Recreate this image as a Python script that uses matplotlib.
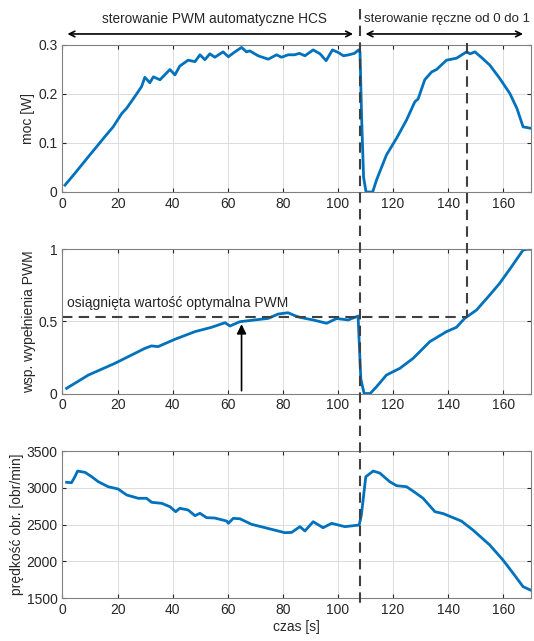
import numpy as np
import matplotlib
matplotlib.use("Agg")
import matplotlib.pyplot as plt
import matplotlib.transforms as mtransforms
from matplotlib.lines import Line2D

plt.rcParams['font.family'] = ['Liberation Sans', 'DejaVu Sans']
plt.rcParams['font.size'] = 10

# ---------------- data ----------------
t_p = [0.9, 4.5, 9.4, 15.4, 18.4, 21.5, 23.3, 26.3, 28.7, 29.9, 31.7, 33, 35.4, 39, 40.8,
       42.6, 45.6, 48.1, 49.9, 51.7, 53.5, 55.3, 58.3, 60.2, 62.6, 65, 66.8, 68, 71, 74.7,
       77.7, 79.5, 81.9, 84.3, 86, 88, 91, 93.5, 95.7, 98, 100, 102, 104, 106, 107.5, 108,
       108.6, 109.3, 110.2, 112.6, 114, 117.6, 121.3, 124.9, 127.9, 129.1, 131.5, 134,
       135.8, 139.4, 143, 146.7, 148, 149.7, 152, 155.1, 158.7, 162.4, 165, 167.2, 170]
moc = [0.014, 0.038, 0.072, 0.113, 0.133, 0.16, 0.171, 0.195, 0.215, 0.234, 0.223, 0.235,
       0.229, 0.25, 0.239, 0.257, 0.269, 0.266, 0.28, 0.27, 0.282, 0.275, 0.286, 0.276,
       0.286, 0.295, 0.286, 0.288, 0.278, 0.271, 0.28, 0.275, 0.28, 0.28, 0.283, 0.278,
       0.29, 0.282, 0.268, 0.29, 0.285, 0.278, 0.28, 0.283, 0.29, 0.285, 0.15, 0.03, 0.0,
       0.0, 0.0245, 0.0755, 0.11, 0.147, 0.184, 0.19, 0.229, 0.245, 0.25, 0.269, 0.273,
       0.286, 0.282, 0.286, 0.275, 0.259, 0.232, 0.201, 0.17, 0.133, 0.13]

t_w = [1.5, 9.4, 19, 29.9, 32.3, 34.7, 40.8, 48.1, 54.1, 59, 60.8, 64.4, 69.8, 74.7, 78.3,
       81.9, 84.3, 86.2, 91, 95.9, 99.5, 103.7, 107.3, 108.3, 109.5, 111.7, 114, 117.6,
       122.5, 127.3, 133.3, 139.4, 143, 146, 150.3, 155.1, 158.7, 163, 167.2, 168.5, 170]
pwm = [0.036, 0.128, 0.209, 0.313, 0.33, 0.325, 0.376, 0.429, 0.459, 0.491, 0.468, 0.498,
       0.51, 0.521, 0.551, 0.56, 0.54, 0.528, 0.51, 0.487, 0.52, 0.51, 0.537, 0.1, 0.0,
       0.0, 0.047, 0.128, 0.175, 0.244, 0.359, 0.429, 0.459, 0.521, 0.579, 0.683, 0.764,
       0.879, 0.995, 1.0, 1.0]

t_n = [1.5, 3.3, 4.5, 5.5, 8.2, 10.6, 13, 16.6, 20.2, 23.3, 27.5, 30.5, 32.4, 36, 39, 41.1,
       42.6, 45.6, 48.1, 49.9, 52.3, 55.3, 59.6, 60.2, 62, 64.4, 68.6, 73.5, 78.3, 80.7,
       83.2, 86.2, 88, 91, 94.6, 97.7, 102.5, 107.7, 108.5, 110.1, 112.8, 115.2, 118.8,
       121.3, 124.9, 127.9, 130.9, 135.2, 138.2, 144.8, 149, 155.1, 159.9, 163.6, 167.2, 170]
obroty = [3075, 3070, 3151, 3228, 3210, 3151, 3083, 3015, 2984, 2903, 2858, 2858, 2803,
          2790, 2744, 2676, 2722, 2699, 2622, 2654, 2595, 2590, 2549, 2518, 2586, 2580,
          2505, 2459, 2414, 2391, 2395, 2473, 2414, 2540, 2459, 2518, 2473, 2495, 2631,
          3151, 3228, 3200, 3083, 3029, 3015, 2939, 2858, 2676, 2650, 2549, 2427, 2224,
          2020, 1839, 1658, 1610]

t_switch = 108      # koniec HCS
t_max = 147         # maksimum mocy przy sterowaniu recznym
pwm_opt = 0.528     # osiagnieta wartosc optymalna
t_arrow = 65

blue = '#0072BD'
grey = '#262626'
dash = '#404040'

fig = plt.figure(figsize=(5.34, 6.41), dpi=100)
ax1 = fig.add_axes([0.117, 0.7005, 0.877, 0.2293])
ax2 = fig.add_axes([0.117, 0.3861, 0.877, 0.2250])
ax3 = fig.add_axes([0.117, 0.0666, 0.877, 0.2298])

for ax in (ax1, ax2, ax3):
    ax.set_xlim(0, 170)
    ax.set_xticks(np.arange(0, 170, 20))
    ax.grid(True, color='#dcdcdc', linewidth=0.7)
    ax.set_axisbelow(True)
    ax.tick_params(direction='in', colors=grey, labelsize=10, length=3, top=True, right=True)
    for s in ax.spines.values():
        s.set_color('#808080')
        s.set_linewidth(0.8)

ax1.plot(t_p, moc, color=blue, linewidth=2)
ax1.set_ylim(0, 0.3)
ax1.set_yticks([0, 0.1, 0.2, 0.3])
ax1.set_yticklabels(['0', '0.1', '0.2', '0.3'])
ax1.set_ylabel('moc [W]', color=grey, labelpad=2)

ax2.plot(t_w, pwm, color=blue, linewidth=2)
ax2.set_ylim(0, 1)
ax2.set_yticks([0, 0.5, 1])
ax2.set_yticklabels(['0', '0.5', '1'])
ax2.set_ylabel('wsp. wypełnienia PWM', color=grey, labelpad=2)

ax3.plot(t_n, obroty, color=blue, linewidth=2)
ax3.set_ylim(1500, 3500)
ax3.set_yticks([1500, 2000, 2500, 3000, 3500])
ax3.set_ylabel('prędkość obr. [obr/min]', color=grey, labelpad=2)
ax3.set_xlabel('czas [s]', color=grey, labelpad=2)

# dashed guide lines spanning the subplots
tr = mtransforms.blended_transform_factory(ax3.transData, fig.transFigure)
fig.add_artist(Line2D([t_switch, t_switch], [0.986, 0.058], transform=tr,
                      color=dash, linestyle='--', linewidth=1.5, dashes=(5, 3)))
y_opt = fig.transFigure.inverted().transform(ax2.transData.transform((0, pwm_opt)))[1]
fig.add_artist(Line2D([t_max, t_max], [0.933, y_opt], transform=tr,
                      color=dash, linestyle='--', linewidth=1.5, dashes=(5, 3)))
ax2.plot([0, t_max], [pwm_opt, pwm_opt], color=dash, linestyle='--',
         linewidth=1.5, dashes=(5, 3), clip_on=False)

# arrows with section descriptions
ax1.annotate('', xy=(0.8, 0.947), xytext=(106.5, 0.947),
             xycoords=tr, textcoords=tr,
             arrowprops=dict(arrowstyle='<->', color='black', linewidth=1.2))
ax1.annotate('', xy=(109, 0.947), xytext=(168.2, 0.947),
             xycoords=tr, textcoords=tr,
             arrowprops=dict(arrowstyle='<->', color='black', linewidth=1.2))
fig.text(55.2, 0.971, 'sterowanie PWM automatyczne HCS', transform=tr,
         ha='center', va='center', fontsize=9.8, color=grey)
fig.text(109.4, 0.971, 'sterowanie ręczne od 0 do 1', transform=tr,
         ha='left', va='center', fontsize=9.5, color=grey)

ax2.annotate('', xy=(t_arrow, 0.5), xytext=(t_arrow, 0),
             arrowprops=dict(arrowstyle='-|>', color='black', linewidth=1.2,
                             mutation_scale=14))
ax2.text(1.5, 0.63, 'osiągnięta wartość optymalna PWM', fontsize=10, color=grey,
         va='center')

plt.savefig('out.png', dpi=100)
